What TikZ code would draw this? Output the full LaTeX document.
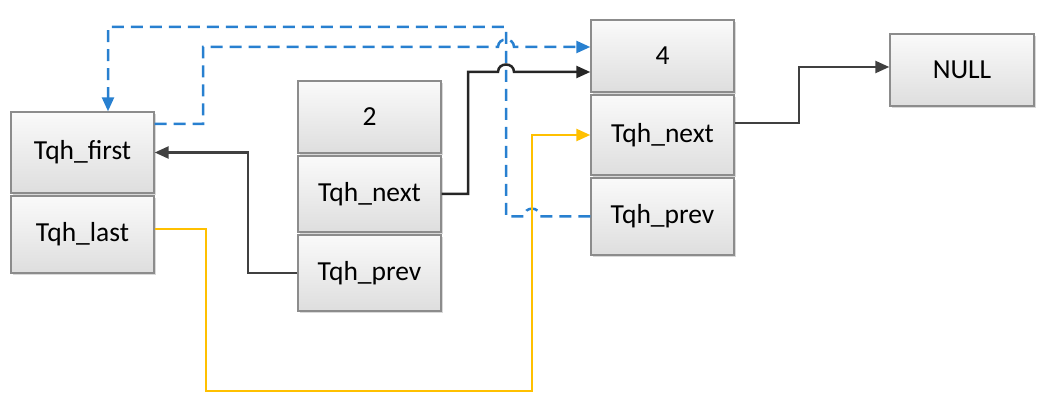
\documentclass[tikz,border=0pt]{standalone}
\usepackage{fontspec}
\setmainfont{Carlito}
\usetikzlibrary{arrows.meta,shadows}
\definecolor{lnblue}{RGB}{40,128,208}
\definecolor{lnyellow}{RGB}{255,192,0}
\definecolor{lngray}{RGB}{64,64,64}
\definecolor{bxborder}{RGB}{140,140,140}
\begin{document}
\begin{tikzpicture}[x=1pt,y=-1pt,
  cell/.style={draw=bxborder, line width=1.4pt, top color=white!98!black, bottom color=white!87!black,
    minimum width=143pt, inner sep=0pt, font=\fontsize{27.5}{32}\selectfont,
    drop shadow={shadow xshift=2pt, shadow yshift=-2pt, fill=black!25, opacity=0.6}},
  tip/.style={-{Triangle[length=14pt,width=12pt]}},
  bluelink/.style={draw=lnblue, line width=2.5pt, dash pattern=on 12pt off 7pt, tip},
  blacklink/.style={draw=black!85, line width=2.5pt, tip},
  graylink/.style={draw=lngray, line width=2.5pt, tip},
  yellowlink/.style={draw=lnyellow, line width=2.5pt, tip}]
\useasboundingbox (0,0) rectangle (1047,406);
% list head
\node[cell, minimum height=81pt] (first) at (82.5,152.5) {Tqh\_first};
\node[cell, minimum height=77pt] (last) at (82.5,234.5) {Tqh\_last};
% element 2
\node[cell, minimum height=72pt] (v2) at (369.5,117) {2};
\node[cell, minimum height=76pt] (next2) at (369.5,194) {Tqh\_next};
\node[cell, minimum height=76pt] (prev2) at (369.5,273) {Tqh\_prev};
% element 4
\node[cell, minimum height=72pt] (v4) at (662.5,56) {4};
\node[cell, minimum height=80pt] (next4) at (662.5,135) {Tqh\_next};
\node[cell, minimum height=77pt] (prev4) at (662.5,216.5) {Tqh\_prev};
% NULL
\node[cell, minimum width=144pt, minimum height=72pt] (null) at (962,70) {NULL};

% blue: prev4 -> first (outer)
\draw[bluelink] (prev4.west) -- (540,216.5) .. controls (540,206) and (524,206) .. (524,216.5)
  -- (506,216.5) -- (506,27) -- (108,27) -- ([xshift=25.5pt]first.north);
% blue: first -> v4
\draw[bluelink] ([yshift=28.5pt]first.east) -- (203,124) -- (203,47) -- (498,47)
  .. controls (498,37) and (514,37) .. (514,47) -- ([yshift=9pt]v4.west);
% black: next2 -> v4
\draw[blacklink] (next2.east) -- (468,194) -- (468,72) -- (498,72)
  .. controls (498,62) and (514,62) .. (514,72) -- ([yshift=-16pt]v4.west);
% gray: prev2 -> first
\draw[graylink] (prev2.west) -- (248,273) -- (248,152.5) -- (first.east);
% yellow: last -> next4
\draw[yellowlink] ([yshift=5.5pt]last.east) -- (206,229) -- (206,391) -- (532,391) -- (532,135) -- (next4.west);
% gray: next4 -> null
\draw[graylink] ([yshift=12pt]next4.east) -- (799,123) -- (799,67) -- ([yshift=3pt]null.west);
\end{tikzpicture}
\end{document}
